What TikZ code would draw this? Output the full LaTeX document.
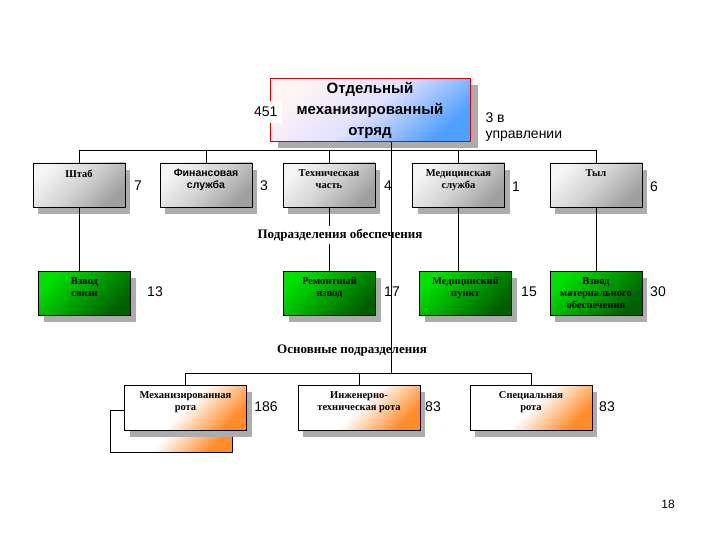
\documentclass[tikz,border=0pt]{standalone}
\usepackage{fontspec}
\setmainfont{Liberation Serif}
\newfontfamily\arialf{Liberation Sans}
\usetikzlibrary{shadows}
\definecolor{vgreen}{RGB}{0,225,0}
\definecolor{dgreen}{RGB}{0,95,0}
\definecolor{orng}{RGB}{255,140,40}
\definecolor{sky}{RGB}{80,160,255}
\newcommand{\bt}[2][88pt]{\parbox[c][31pt][t]{#1}{\centering #2}}

\begin{document}
\begin{tikzpicture}[x=1pt,y=-1pt,
  plainbox/.style={draw=black, inner sep=0pt, minimum width=92pt, minimum height=44pt,
    font=\fontsize{10.5}{12}\selectfont\bfseries},
  box/.style={plainbox,
    drop shadow={shadow xshift=5pt, shadow yshift=-7pt, fill=gray!65, opacity=1}},
  greybox/.style={box, top color=gray!8, bottom color=gray!75, middle color=gray!35, shading angle=45},
  greenbox/.style={box, top color=vgreen, bottom color=dgreen, shading angle=45},
  orange/.style={minimum width=122pt, minimum height=45pt,
    top color=white, bottom color=orng, middle color=white, shading angle=45},
  num/.style={font=\arialf\fontsize{14}{16}\selectfont},
  caption/.style={font=\fontsize{13}{15}\selectfont\bfseries, inner sep=3pt}]
\useasboundingbox (0,0) rectangle (720,540);

% top
\node[draw=red!85!black, line width=0.8pt, minimum width=200pt, minimum height=63pt,
  top color=red!4, bottom color=sky, middle color=blue!12, shading angle=40,
  drop shadow={shadow xshift=8pt, shadow yshift=-7pt, fill=gray!65, opacity=1},
  align=center, font=\arialf\bfseries\fontsize{15}{21}\selectfont]
  (otr) at (370,110) {Отдельный\\механизированный\\отряд};
\node[num, fill=white, anchor=west, minimum width=33pt, minimum height=22pt, align=left, inner sep=1pt]
  (n451) at (249,112) {451};
\node[num, anchor=west, align=left] (nupr) at (482,127) {3 в\\управлении};

% first row
\node[greybox] (shtab) at (79,185) {\bt{Штаб}};
\node[greybox, font=\arialf\fontsize{10.5}{12}\selectfont\bfseries] (fin) at (206,185) {\bt{Финансовая\\служба}};
\node[greybox] (tech) at (329,185) {\bt{Техническая\\часть}};
\node[greybox] (med) at (458.5,185) {\bt{Медицинская\\служба}};
\node[greybox] (tyl) at (596,185) {\bt{Тыл}};
\node[num] (n7) at (138,186) {7};
\node[num] (n3) at (264,186) {3};
\node[num] (n4) at (388,186) {4};
\node[num] (n1) at (516,187) {1};
\node[num] (n6) at (654,187) {6};

% support units
\node[caption] (podr) at (340,235) {Подразделения обеспечения};
\node[greenbox] (svyaz) at (84.5,293) {\bt{Взвод\\связи}};
\node[greenbox] (remont) at (329.5,293) {\bt{Ремонтный\\взвод}};
\node[greenbox] (mpunkt) at (465.5,293) {\bt{Медицинский\\пункт}};
\node[greenbox] (vmo) at (596,293) {\bt{Взвод\\материального\\обеспечения}};
\node[num] (n13) at (155,292) {13};
\node[num] (n17) at (392,292) {17};
\node[num] (n15) at (529,292) {15};
\node[num] (n30) at (658,292) {30};

% main units
\node[caption] (osn) at (352,351) {Основные подразделения};
\node[plainbox, orange, minimum height=42pt] (mrota2) at (171,431) {};
\node[box, orange] (mrota) at (185.5,407.5) {\bt[118pt]{Механизированная\\рота}};
\node[box, orange] (irota) at (359,407.5) {\bt[118pt]{Инженерно-\\техническая рота}};
\node[box, orange] (srota) at (531,407.5) {\bt[118pt]{Специальная\\рота}};
\node[num] (n186) at (266,407) {186};
\node[num] (n83a) at (433,407) {83};
\node[num] (n83b) at (607,407) {83};

\node[num, font=\arialf\fontsize{12}{14}\selectfont] (page) at (668,504) {18};

% connectors
\coordinate (b1) at (391,150);
\coordinate (b2) at (391,373);
\draw (shtab.north |- b1) -- (tyl.north |- b1);
\foreach \n in {shtab,fin,tech,med,tyl}
  \draw (\n.north |- b1) -- (\n.north);
\foreach \a/\b in {shtab/svyaz, med/mpunkt, tyl/vmo}
  \draw (\a.south) -- (\a.south |- \b.north);
\draw (tech.south) -- (tech.south |- podr.north);
\draw (remont.north |- podr.south) -- (remont.north);
\draw (otr.south -| b1) -- (b2);
\draw (mrota.north |- b2) -- (srota.north |- b2);
\foreach \n in {mrota,irota,srota}
  \draw (\n.north |- b2) -- (\n.north);
\end{tikzpicture}
\end{document}
